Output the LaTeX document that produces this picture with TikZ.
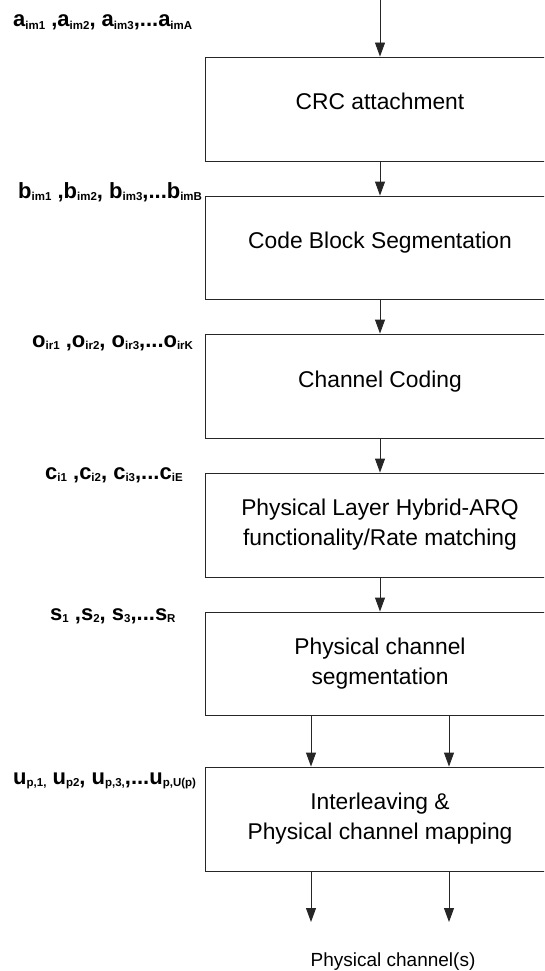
\documentclass[tikz,border=0pt]{standalone}
\usepackage{fontspec}
\setmainfont{Liberation Sans}
\usetikzlibrary{arrows.meta,calc}
\newcommand\sbx[1]{\raisebox{-2.5pt}{\fontsize{11.5}{12}\selectfont\bfseries #1}}
\begin{document}
\begin{tikzpicture}[x=1pt,y=-1pt,
  box/.style={draw=black!85, line width=0.9pt, minimum width=349pt, minimum height=104pt, inner sep=0pt, align=center, font=\fontsize{22.8}{30}\selectfont},
  one/.style={text height=16pt, text depth=14pt},
  lbl/.style={anchor=base west, inner sep=0pt, font=\fontsize{22}{26}\selectfont\bfseries},
  arr/.style={draw=black!85, line width=0.9pt, -{Triangle[length=14pt,width=10pt]}}]
\useasboundingbox (0,0) rectangle (544,971);
\clip (0,0) rectangle (544,971);

\node[box,one] (b1) at (380,109) {CRC attachment};
\node[box,one,minimum height=103pt] (b2) at (380,247.5) {Code Block Segmentation};
\node[box,one] (b3) at (380,386) {Channel Coding};
\node[box] (b4) at (380,525) {Physical Layer Hybrid-ARQ\\functionality/Rate matching};
\node[box,minimum height=103pt] (b5) at (380,663.5) {Physical channel\\segmentation};
\node[box] (b6) at (380,819) {Interleaving \&\\Physical channel mapping};

\coordinate (top) at (380,0);
\coordinate (o1) at (311,922);
\coordinate (o2) at (449,922);

\draw[arr] (top) -- (b1.north);
\draw[arr] (b1.south) -- (b2.north);
\draw[arr] (b2.south) -- (b3.north);
\draw[arr] (b3.south) -- (b4.north);
\draw[arr] (b4.south) -- (b5.north);
\draw[arr] (b5.south -| o1) -- (b6.north -| o1);
\draw[arr] (b5.south -| o2) -- (b6.north -| o2);
\draw[arr] (b6.south -| o1) -- (o1);
\draw[arr] (b6.south -| o2) -- (o2);

\node[anchor=base, inner sep=0pt, font=\fontsize{19}{22}\selectfont] (pc) at (393,966) {Physical channel(s)};

\node[lbl] (la) at (13,27) {a\sbx{im1} ,a\sbx{im2}, a\sbx{im3},...a\sbx{imA}};
\node[lbl] (lb) at (18,198) {b\sbx{im1} ,b\sbx{im2}, b\sbx{im3},...b\sbx{imB}};
\node[lbl] (lo) at (32,347) {o\sbx{ir1} ,o\sbx{ir2}, o\sbx{ir3},...o\sbx{irK}};
\node[lbl] (lc) at (45,479) {c\sbx{i1} ,c\sbx{i2}, c\sbx{i3},...c\sbx{iE}};
\node[lbl] (ls) at (50,620) {s\sbx{1} ,s\sbx{2}, s\sbx{3},...s\sbx{R}};
\node[lbl] (lu) at (13,784) {u\sbx{p,1,} u\sbx{p2}, u\sbx{p,3,},...u\sbx{p,U(p)}};
\end{tikzpicture}
\end{document}
